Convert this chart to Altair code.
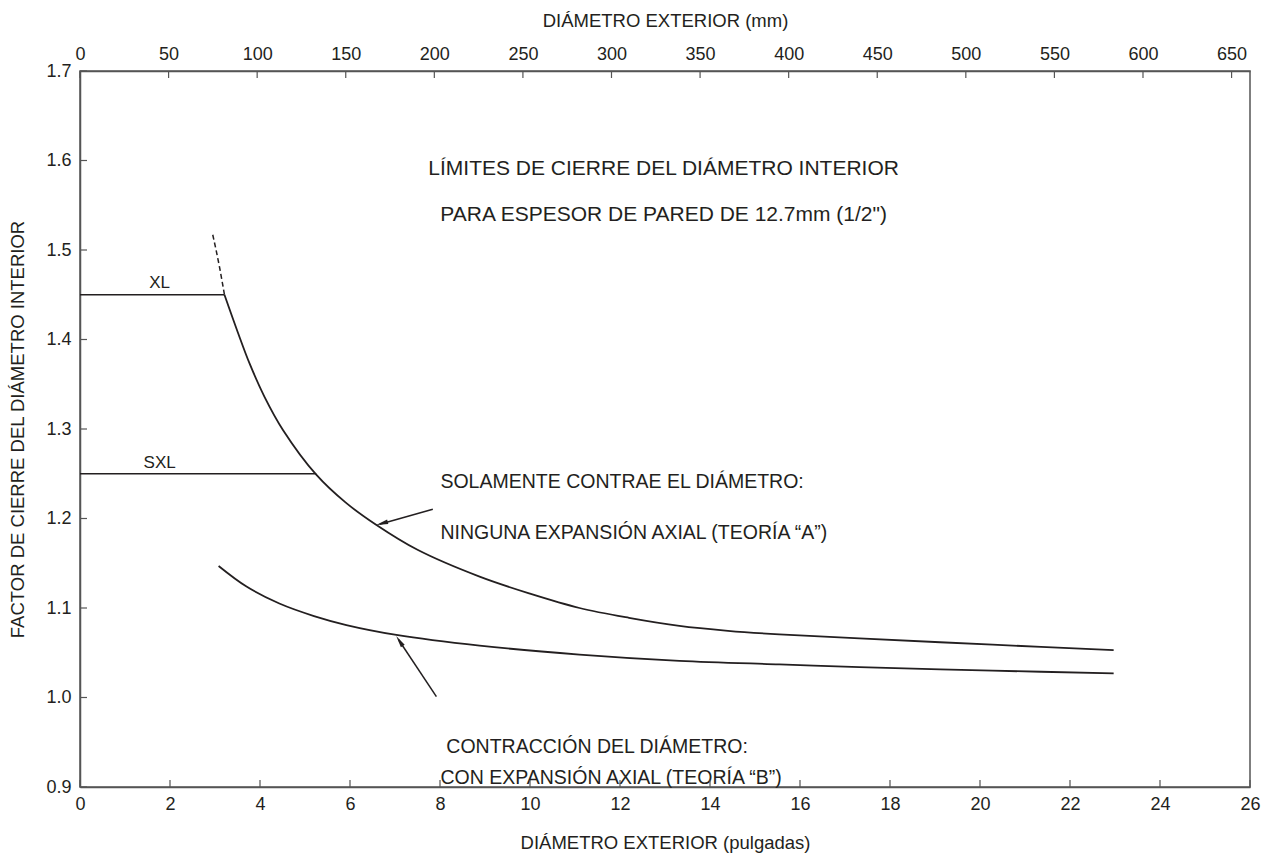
import altair as alt
import pandas as pd

# Curve A: "Solamente contrae el diámetro" (teoría A)
a_x = [3.21, 3.5, 3.77, 4.1, 4.51, 5.25, 5.9, 6.58, 7.5, 8.88, 10.0, 11.1, 12.2, 13.32, 14.4, 15.54, 17.32, 20.28, 22.97]
a_y = [1.450, 1.409, 1.373, 1.336, 1.299, 1.249, 1.218, 1.193, 1.165, 1.135, 1.116, 1.100, 1.089, 1.080, 1.0745, 1.0705, 1.066, 1.059, 1.053]
# dashed extension of curve A
ad_x = [2.95, 3.10, 3.21]
ad_y = [1.517, 1.481, 1.450]
# Curve B: "Contracción del diámetro" (teoría B)
b_x = [3.08, 3.7, 4.43, 5.2, 5.92, 7.03, 8.88, 11.1, 13.32, 15.54, 17.32, 20.28, 22.97]
b_y = [1.147, 1.124, 1.105, 1.091, 1.081, 1.070, 1.058, 1.048, 1.041, 1.037, 1.034, 1.030, 1.027]
# limit lines
lim_names = ["XL", "SXL"]
lim_y = [1.45, 1.25]
lim_x_end = [3.21, 5.25]

x_ticks = list(range(0, 27, 2))
mm_ticks = list(range(0, 651, 50))
y_ticks = [0.9, 1.0, 1.1, 1.2, 1.3, 1.4, 1.5, 1.6, 1.7]

INK = "#231f20"
FONT = "Liberation Sans"
NARROW = "Liberation Sans Narrow, Liberation Sans"
W, H = 1170, 716

xs = alt.Scale(domain=[0, 26], nice=False, zero=False)
ys = alt.Scale(domain=[0.9, 1.7], nice=False, zero=False)

x_axis = alt.Axis(values=x_ticks, title="DIÁMETRO EXTERIOR (pulgadas)", labelPadding=8,
                  labelFlush=False, labelOverlap=False,
                  titleX=585, titleY=55, titleBaseline="middle", titleAlign="center")
y_axis = alt.Axis(values=y_ticks, format=".1f", title="FACTOR DE CIERRE DEL DIÁMETRO INTERIOR",
                  labelPadding=9, labelFlush=False, labelOverlap=False,
                  titleX=-63, titleY=358, titleAngle=-90,
                  titleBaseline="middle", titleAlign="center")

def X(field="x"):
    return alt.X(f"{field}:Q", scale=xs, axis=x_axis)

def Y(field="y"):
    return alt.Y(f"{field}:Q", scale=ys, axis=y_axis)

dfA = pd.DataFrame({"x": a_x, "y": a_y})
dfAd = pd.DataFrame({"x": ad_x, "y": ad_y})
dfB = pd.DataFrame({"x": b_x, "y": b_y})

curveA = alt.Chart(dfA).mark_line(color=INK, strokeWidth=1.8, interpolate="catmull-rom").encode(
    x=X(), y=Y())
curveAd = alt.Chart(dfAd).mark_line(color=INK, strokeWidth=1.5, strokeDash=[5, 3],
                                    interpolate="monotone").encode(x=X(), y=Y())
curveB = alt.Chart(dfB).mark_line(color=INK, strokeWidth=1.8, interpolate="catmull-rom").encode(
    x=X(), y=Y())

dfL = pd.DataFrame({"name": lim_names, "y": lim_y, "x0": [0, 0], "x1": lim_x_end,
                    "lx": [1.77, 1.77], "ly": [1.463, 1.262]})
limits = alt.Chart(dfL).mark_rule(color=INK, strokeWidth=1.5).encode(
    x=X("x0"), x2="x1:Q", y=Y())
lim_text = alt.Chart(dfL).mark_text(font=FONT, fontSize=17, color=INK).encode(
    x=X("lx"), y=Y("ly"), text="name:N")

# annotation texts
ann_text = ["LÍMITES DE CIERRE DEL DIÁMETRO INTERIOR",
            "PARA ESPESOR DE PARED DE 12.7mm (1/2\")"]
dfT = pd.DataFrame({"x": [12.97, 12.97], "y": [1.5905, 1.539], "t": ann_text})
titles = alt.Chart(dfT).mark_text(font=FONT, fontSize=21, color=INK).encode(
    x=X(), y=Y(), text="t:N")

lab_text = ["SOLAMENTE CONTRAE EL DIÁMETRO:", "NINGUNA EXPANSIÓN AXIAL (TEORÍA “A”)",
            "CONTRACCIÓN DEL DIÁMETRO:", "CON EXPANSIÓN AXIAL (TEORÍA “B”)"]
dfN = pd.DataFrame({"x": [8.01, 8.01, 8.14, 8.01], "y": [1.2408, 1.1838, 0.9447, 0.910],
                    "t": lab_text})
notes = alt.Chart(dfN).mark_text(font=FONT, fontSize=19.5, color=INK, align="left").encode(
    x=X(), y=Y(), text="t:N")

# arrows
dfArr = pd.DataFrame({"x": [7.84, 7.92], "y": [1.2103, 1.0009],
                      "x2": [6.66, 7.08], "y2": [1.1935, 1.0645]})
arr_lines = alt.Chart(dfArr).mark_rule(color=INK, strokeWidth=1.5).encode(
    x=X(), y=Y(), x2="x2:Q", y2="y2:Q")
dfHead = pd.DataFrame({"x": [6.71, 7.10], "y": [1.1945, 1.0631], "ang": [254.5, 326.6]})
heads = alt.Chart(dfHead).mark_point(shape="M0,-1L0.38,1L-0.38,1Z", filled=True, color=INK,
                                     size=144, opacity=1).encode(
    x=X(), y=Y(), angle=alt.Angle("ang:Q", scale=None))

# inward tick marks
dfXT = pd.DataFrame({"x": x_ticks})
xt = alt.Chart(dfXT).mark_rule(color="#555", strokeWidth=1.2).encode(
    x=X(), y=alt.value(H), y2=alt.value(H - 7))
dfYT = pd.DataFrame({"y": y_ticks})
yt = alt.Chart(dfYT).mark_rule(color="#555", strokeWidth=1.2).encode(
    y=Y(), x=alt.value(0), x2=alt.value(7))

inch_layer = alt.layer(curveA, curveAd, curveB, limits, lim_text, titles, notes,
                       arr_lines, heads, xt, yt)

dfMT = pd.DataFrame({"mm": mm_ticks})
mm_layer = alt.Chart(dfMT).mark_rule(color="#555", strokeWidth=1.2).encode(
    x=alt.X("mm:Q", scale=alt.Scale(domain=[0, 26 * 25.4], nice=False, zero=False),
            axis=alt.Axis(orient="top", values=mm_ticks, title="DIÁMETRO EXTERIOR (mm)",
                          labelPadding=8, labelFlush=False, labelOverlap=False,
                          titleX=585, titleY=-51, titleBaseline="middle",
                          titleAlign="center")),
    y=alt.value(0), y2=alt.value(7))

chart = alt.layer(inch_layer, mm_layer).resolve_scale(x="independent").properties(
    width=W, height=H,
    autosize=alt.AutoSizeParams(type="none"),
    padding={"left": 80, "top": 71, "right": 19, "bottom": 66},
).configure_view(stroke="#555", strokeWidth=1.5).configure_axis(
    labelFont=NARROW, labelFontSize=18, labelColor=INK, labelFontWeight="normal",
    titleFont=FONT, titleFontSize=18.5, titleColor=INK, titleFontWeight="normal",
    domainColor="#555", domainWidth=1.5, ticks=False, grid=False,
)

chart.save("out.html", embed_options={"renderer": "svg", "actions": False})
